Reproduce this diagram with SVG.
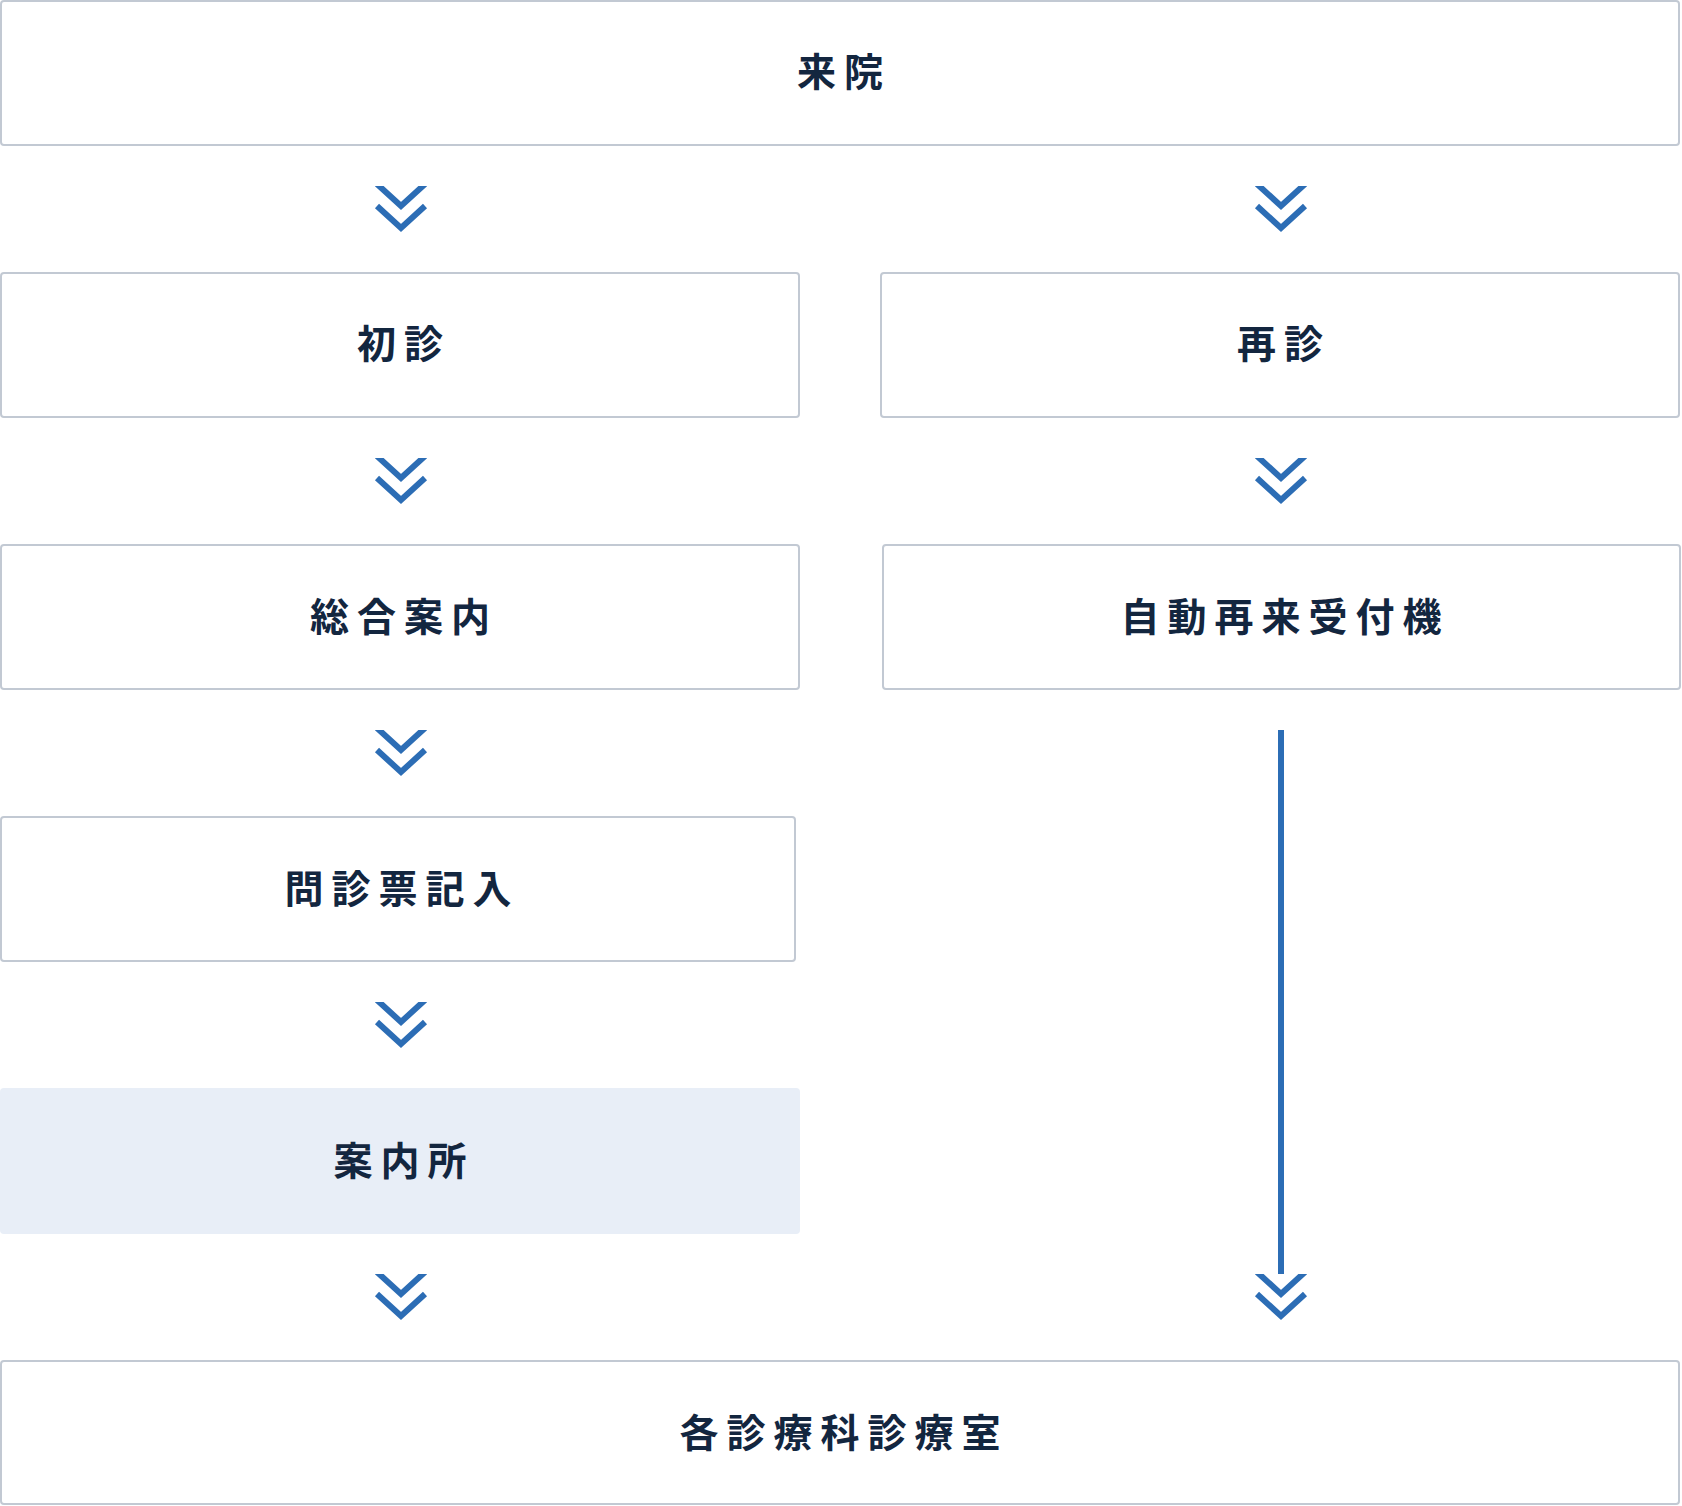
<svg xmlns="http://www.w3.org/2000/svg" width="1682" height="1506" viewBox="0 0 1682 1506">
<style>
.box{fill:#ffffff;stroke:#c2c9d3;stroke-width:2}
.hl{fill:#e8eef7}
.lbl{font-family:"Noto Sans CJK JP","Noto Sans CJK SC",sans-serif;font-weight:700;font-size:39px;letter-spacing:8px;fill:#13263f;text-anchor:middle;dominant-baseline:central}
.chev{fill:none;stroke:#2c6db5;stroke-width:6;stroke-linejoin:miter}
</style>
<defs>
<g id="dchev">
<polyline class="chev" points="-24,-2 0,20 24,-2"/>
<polyline class="chev" points="-24,20 0,42 24,20"/>
</g>
<clipPath id="cl"><rect x="-40" y="0" width="80" height="60"/></clipPath>
</defs>
<rect width="1682" height="1506" fill="#ffffff"/>
<g id="connectors">
<use href="#dchev" x="401" y="186" clip-path="url(#cl)"/>
<use href="#dchev" x="1281" y="186" clip-path="url(#cl)"/>
<use href="#dchev" x="401" y="458" clip-path="url(#cl)"/>
<use href="#dchev" x="1281" y="458" clip-path="url(#cl)"/>
<use href="#dchev" x="401" y="730" clip-path="url(#cl)"/>
<use href="#dchev" x="401" y="1002" clip-path="url(#cl)"/>
<use href="#dchev" x="401" y="1274" clip-path="url(#cl)"/>
<line x1="1281" y1="730" x2="1281" y2="1274" stroke="#2c6db5" stroke-width="6"/>
<use href="#dchev" x="1281" y="1274" clip-path="url(#cl)"/>
</g>
<g id="n-raiin">
<rect class="box" x="1" y="1" width="1678" height="144" rx="3"/>
<text class="lbl" x="844" y="69">来院</text>
</g>
<g id="n-shoshin">
<rect class="box" x="1" y="273" width="798" height="144" rx="3"/>
<text class="lbl" x="404" y="341">初診</text>
</g>
<g id="n-saishin">
<rect class="box" x="881" y="273" width="798" height="144" rx="3"/>
<text class="lbl" x="1284" y="341">再診</text>
</g>
<g id="n-sogo">
<rect class="box" x="1" y="545" width="798" height="144" rx="3"/>
<text class="lbl" x="404" y="614">総合案内</text>
</g>
<g id="n-jido">
<rect class="box" x="883" y="545" width="797" height="144" rx="3"/>
<text class="lbl" x="1285" y="614">自動再来受付機</text>
</g>
<g id="n-monshin">
<rect class="box" x="1" y="817" width="794" height="144" rx="3"/>
<text class="lbl" x="402" y="886">問診票記入</text>
</g>
<g id="n-annaisho">
<rect class="hl" x="0" y="1088" width="800" height="146" rx="4"/>
<text class="lbl" x="404" y="1158">案内所</text>
</g>
<g id="n-shinryo">
<rect class="box" x="1" y="1361" width="1678" height="143" rx="3"/>
<text class="lbl" x="844" y="1430">各診療科診療室</text>
</g>
</svg>
